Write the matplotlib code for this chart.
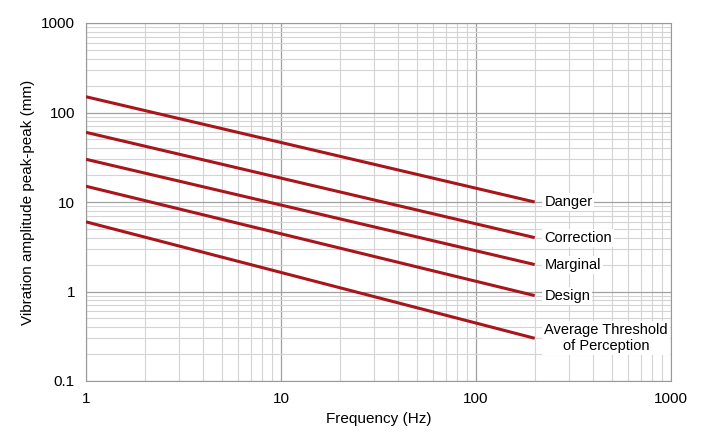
import numpy as np
import matplotlib
matplotlib.use("Agg")
import matplotlib.pyplot as plt
from matplotlib.ticker import LogLocator, FixedLocator, NullFormatter

plt.rcParams['font.family'] = ['Liberation Sans', 'DejaVu Sans']

# zone limits: amplitude at 1 Hz and at 200 Hz
freq = [1, 200]
labels = ['Danger', 'Correction', 'Marginal', 'Design', 'Average Threshold\nof Perception']
start_vals = [150, 60, 30, 15, 6]
end_vals = [10, 4, 2, 0.9, 0.3]

fig = plt.figure(figsize=(7.07, 4.38), dpi=100)
ax = fig.add_axes([86 / 707, 1 - 381 / 438, 585 / 707, 358 / 438])

for lab, y0, y1 in zip(labels, start_vals, end_vals):
    ax.plot(freq, [y0, y1], color='#a8161b', lw=2.2, solid_capstyle='butt', zorder=3)
    ax.text(freq[1] * 1.12, y1, lab, fontsize=10.5, va='center', ha='left' if '\n' not in lab else 'left',
            multialignment='center', zorder=4,
            bbox=dict(facecolor='white', edgecolor='none', pad=1.5))

ax.set_xscale('log')
ax.set_yscale('log')
ax.set_xlim(1, 1000)
ax.set_ylim(0.1, 1000)

ax.xaxis.set_major_locator(FixedLocator([1, 10, 100, 1000]))
ax.yaxis.set_major_locator(FixedLocator([0.1, 1, 10, 100, 1000]))
ax.set_xticklabels(['1', '10', '100', '1000'])
ax.set_yticklabels(['0.1', '1', '10', '100', '1000'])
ax.xaxis.set_minor_locator(LogLocator(base=10, subs=np.arange(2, 10)))
ax.yaxis.set_minor_locator(LogLocator(base=10, subs=np.arange(2, 10)))
ax.xaxis.set_minor_formatter(NullFormatter())
ax.yaxis.set_minor_formatter(NullFormatter())

ax.grid(which='major', color='#a0a0a0', lw=0.9)
ax.grid(which='minor', color='#d4d4d4', lw=0.8)
ax.tick_params(which='both', length=0, labelsize=11, pad=8)
for s in ax.spines.values():
    s.set_color('#999999')

ax.set_xlabel('Frequency (Hz)', fontsize=11)
ax.set_ylabel('Vibration amplitude peak-peak (mm)', fontsize=11)

fig.savefig('out.png', dpi=100)
